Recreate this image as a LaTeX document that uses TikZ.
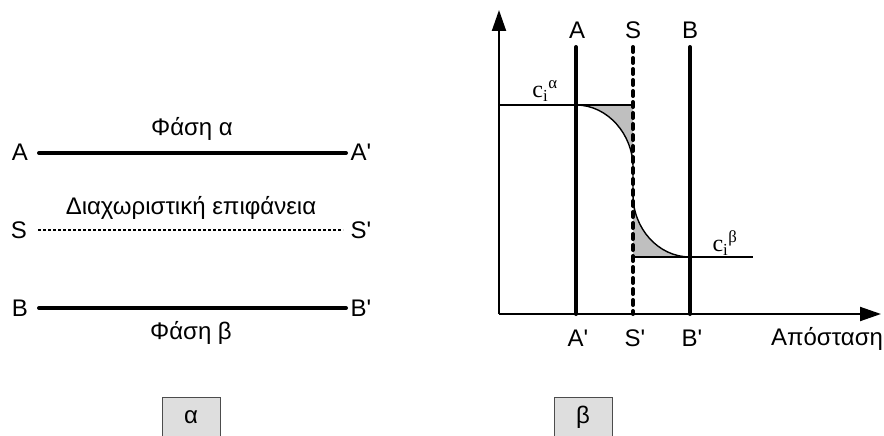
\documentclass[tikz,border=0pt]{standalone}
\usepackage{fontspec}
\setmainfont{Liberation Sans}
\newfontfamily\seriffont{Liberation Serif}
\usetikzlibrary{arrows.meta}
\newcommand{\pr}{\textquotesingle}
\begin{document}
\begin{tikzpicture}[x=1pt,y=-1pt,
  lbl/.style={font=\fontsize{24}{28}\selectfont, inner sep=0pt},
  conc/.style={font=\seriffont\fontsize{24}{28}\selectfont, inner sep=0pt},
  phase/.style={line width=4pt, line cap=round},
  iface/.style={line width=1.4pt, dash pattern=on 3pt off 2pt},
  ifacer/.style={line width=4pt, dash pattern=on 5pt off 6pt, line cap=round},
  axis/.style={line width=2pt, -{Triangle[length=21pt,width=14pt]}},
  thin/.style={line width=1.4pt},
  shade/.style={fill=black!25},
  capbox/.style={fill=black!13, draw=black!70, line width=1pt}
]
\useasboundingbox (0,0) rectangle (884,436);
% ---------- left panel ----------
\node[lbl] (tA) at (20,152) {A};
\node[lbl] (tA2) at (361,152) {A\pr};
\node[lbl] (tS) at (19,230) {S};
\node[lbl] (tS2) at (361,230) {S\pr};
\node[lbl] (tB) at (20,308) {B};
\node[lbl] (tB2) at (361,308) {B\pr};
\node[lbl] (pa) at (192,129) {Φάση α};
\node[lbl] (dia) at (191,208) {Διαχωριστική επιφάνεια};
\node[lbl] (pb) at (191,333) {Φάση β};
\coordinate (a1) at (39,153); \coordinate (a2) at (346,153);
\coordinate (s1) at (38,230); \coordinate (s2) at (343,230);
\coordinate (b1) at (39,308); \coordinate (b2) at (346,308);
\draw[phase] (a1) -- (a2);
\draw[iface] (s1) -- (s2);
\draw[phase] (b1) -- (b2);
% caption boxes
\path[capbox] (162,437) -- (162,397) -- (220,397) -- (220,437);
\node[lbl] (capa) at (191,417) {α};
\path[capbox] (554,437) -- (554,397) -- (612,397) -- (612,437);
\node[lbl] (capb) at (583,417) {β};
% ---------- right panel ----------
\coordinate (O) at (499,314);
\coordinate (ytop) at (499,10);
\coordinate (xend) at (881,314);
% shaded regions
\path[shade] (576,105) .. controls (608,105) and (633,135) .. (633,167) -- (633,105) -- cycle;
\path[shade] (633,195) .. controls (633,228) and (658,257) .. (690,257) -- (633,257) -- cycle;
% concentration lines
\coordinate (ca1) at (499,105); \coordinate (ca2) at (633,105);
\coordinate (cb1) at (633,257); \coordinate (cb2) at (753,257);
\draw[thin] (ca1) -- (ca2);
\draw[thin] (cb1) -- (cb2);
\draw[thin] (576,105) .. controls (608,105) and (633,135) .. (633,167) -- (633,195)
   .. controls (633,228) and (658,257) .. (690,257);
% vertical lines
\coordinate (At) at (576,47); \coordinate (Ab) at (576,314);
\coordinate (St) at (633,47); \coordinate (Sb) at (633,314);
\coordinate (Bt) at (690,47); \coordinate (Bb) at (690,314);
\draw[phase] (At) -- (Ab);
\draw[ifacer] (St) -- (Sb);
\draw[phase] (Bt) -- (Bb);
% axes
\draw[axis] (O) -- (ytop);
\draw[axis] (O) -- (xend);
% labels
\node[lbl] (lA) at (577,30) {A};
\node[lbl] (lS) at (633,30) {S};
\node[lbl] (lB) at (690,30) {B};
\node[lbl] (lA2) at (578,338) {A\pr};
\node[lbl] (lS2) at (635,338) {S\pr};
\node[lbl] (lB2) at (692,338) {B\pr};
\node[lbl] (dist) at (827,339) {Απόσταση};
\node[conc] (cia) at (545,91) {c\textsubscript{i}\textsuperscript{α}};
\node[conc] (cib) at (725,243) {c\textsubscript{i}\textsuperscript{β}};
\end{tikzpicture}
\end{document}
